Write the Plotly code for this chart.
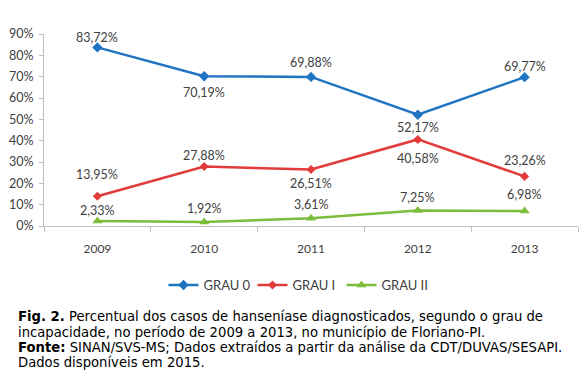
import plotly.graph_objects as go

years = ["2009", "2010", "2011", "2012", "2013"]
grau0 = [83.72, 70.19, 69.88, 52.17, 69.77]
grau1 = [13.95, 27.88, 26.51, 40.58, 23.26]
grau2 = [2.33, 1.92, 3.61, 7.25, 6.98]
series_names = ["GRAU 0", "GRAU I", "GRAU II"]
y_ticks = [0, 10, 20, 30, 40, 50, 60, 70, 80, 90]
y_tick_labels = [f"{t}%" for t in y_ticks]

caption_lines = [
    "<b>Fig. 2.</b> Percentual dos casos de hanseníase diagnosticados, segundo o grau de",
    "incapacidade, no período de 2009 a 2013, no município de Floriano-PI.",
    "<b>Fonte:</b> SINAN/SVS-MS; Dados extraídos a partir da análise da CDT/DUVAS/SESAPI.",
    "Dados disponíveis em 2015.",
]

# styles
colors = ["#1F74C2", "#E23B3B", "#7CBD3B"]
symbols = ["diamond", "diamond", "triangle-up"]
msizes = [8, 7, 9]
# label vertical offsets in px (negative = above)
label_offsets = [
    [-10, 16, -14, 13, -11],
    [-22, -11, 14, 19, -16],
    [-11, -13, -14, -13, -17],
]

# the page body adds an 8px margin; lay the figure out in page pixels minus that
OFF = 8
W, H = 587 - OFF, 386 - OFF
L, R = 44 - OFF, 587 - 578
T, B = 34 - OFF, 386 - 226
plot_w = W - L - R
plot_h = H - T - B

fig = go.Figure()
all_vals = [grau0, grau1, grau2]
for i, vals in enumerate(all_vals):
    fig.add_trace(go.Scatter(
        x=years, y=vals, name=series_names[i], mode="lines+markers",
        line=dict(color=colors[i], width=2.5),
        marker=dict(symbol=symbols[i], size=msizes[i], color=colors[i]),
    ))
    for j, v in enumerate(vals):
        fig.add_annotation(
            x=j, y=v, xref="x", yref="y",
            text=f"{v:.2f}".replace(".", ",") + "%",
            showarrow=False, yshift=-label_offsets[i][j],
            font=dict(family="Lato", size=12.5, color="#404040"),
        )

def py_to_paper(py):  # py in page pixels
    return (226 - py) / plot_h

def px_to_paper(px):
    return (px - 44) / plot_w

caption_y = [316, 332, 347, 362]
for txt, py in zip(caption_lines, caption_y):
    fig.add_annotation(
        x=px_to_paper(16), y=py_to_paper(py), xref="paper", yref="paper",
        xanchor="left", yanchor="middle", showarrow=False, align="left",
        text=txt, font=dict(family="DejaVu Sans", size=13.2, color="#000000"),
    )

fig.update_layout(
    width=W, height=H,
    margin=dict(l=L, r=R, t=T, b=B, autoexpand=False),
    paper_bgcolor="white", plot_bgcolor="white",
    showlegend=True,
    legend=dict(orientation="h", x=px_to_paper(297), xanchor="center",
                y=py_to_paper(285), yanchor="middle",
                font=dict(family="Lato", size=13, color="#404040"),
                itemwidth=30, entrywidth=44, entrywidthmode="pixels",
                tracegroupgap=0),
    font=dict(family="Lato", color="#404040"),
)
fig.update_xaxes(
    type="category", range=[-0.5, 4.5], automargin=False,
    showline=True, linecolor="#BFBFBF", linewidth=1,
    ticks="outside", tickson="boundaries", ticklen=5, tickcolor="#BFBFBF",
    tickfont=dict(family="Lato", size=12, color="#404040"),
    ticklabelstandoff=12, showgrid=False, zeroline=False,
)
fig.update_yaxes(
    range=[0, 90], tickvals=y_ticks, ticktext=y_tick_labels, automargin=False,
    showline=True, linecolor="#BFBFBF", linewidth=1,
    ticks="outside", ticklen=4, tickcolor="#BFBFBF",
    tickfont=dict(family="Lato", size=12.5, color="#404040"),
    ticklabelstandoff=3, showgrid=False, zeroline=False,
)

fig.write_html("out.html")
